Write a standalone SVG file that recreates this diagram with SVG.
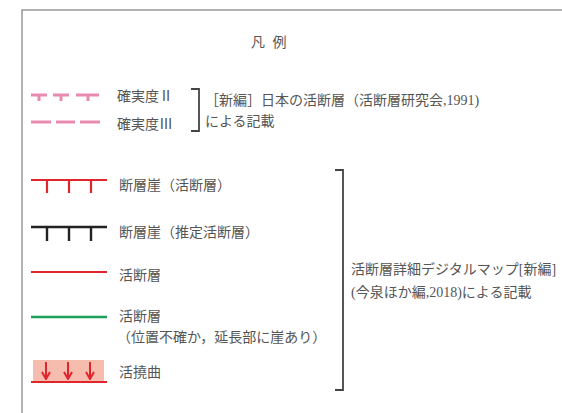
<svg xmlns="http://www.w3.org/2000/svg" width="562" height="413" viewBox="0 0 562 413">
<style>
text{font-family:"Liberation Serif","Noto Sans CJK JP",serif;font-size:14px;fill:#555}
.br{fill:none;stroke:#444;stroke-width:1.8}
.arr{stroke:#e0252d;stroke-width:2;fill:none;marker-end:url(#ah)}
</style>
<defs>
<marker id="ah" viewBox="0 0 10 10" refX="9" refY="5" markerWidth="10" markerHeight="10" markerUnits="userSpaceOnUse" orient="auto">
<path d="M2,1 L9,5 L2,9" fill="none" stroke="#e0252d" stroke-width="2"/>
</marker>
</defs>
<rect width="562" height="413" fill="#fff"/>
<path d="M22,413 V10 H562" fill="none" stroke="#999" stroke-width="1.5"/>
<g id="title"><text x="251" y="47" font-size="16" letter-spacing="2">凡 例</text></g>
<g id="kakujitsu2">
<path d="M31,95 H47 M39,95 V101 M53,95 H69 M61,95 V101 M76,95 H99 M88,95 V101" stroke="#e98bb0" stroke-width="3" fill="none"/>
<text x="117" y="101">確実度Ⅱ</text>
</g>
<g id="kakujitsu3">
<path d="M31,122 H51 M56,122 H75 M80,122 H100" stroke="#e98bb0" stroke-width="3" fill="none"/>
<text x="117" y="129">確実度Ⅲ</text>
</g>
<g id="source1">
<text x="205" y="105">［新編］日本の活断層（活断層研究会,1991)</text>
<text x="205" y="126">による記載</text>
</g>
<g id="dansougai">
<path d="M31,180 H107 M47,180 V193 M69,180 V193 M91,180 V193" stroke="#e0252d" stroke-width="2.2" fill="none"/>
<text x="119" y="190">断層崖（活断層）</text>
</g>
<g id="suitei">
<path d="M31,227 H107 M47,227 V241 M69,227 V241 M91,227 V241" stroke="#222" stroke-width="2.4" fill="none"/>
<text x="119" y="237">断層崖（推定活断層）</text>
</g>
<g id="katsudansou">
<path d="M31,272 H107" stroke="#e0252d" stroke-width="2.2" fill="none"/>
<text x="119" y="280">活断層</text>
</g>
<g id="katsudansou2">
<path d="M31,317 H107" stroke="#1ea05a" stroke-width="2.6" fill="none"/>
<text x="119" y="321">活断層</text>
<text x="117" y="342">（位置不確か，延長部に崖あり）</text>
</g>
<g id="kyokyoku">
<rect x="33" y="360" width="71" height="22" fill="#f6bcae"/>
<path d="M31,382 H107" stroke="#e0252d" stroke-width="2.2" fill="none"/>
<path class="arr" d="M46,362 V379"/>
<path class="arr" d="M68,362 V379"/>
<path class="arr" d="M90,362 V379"/>
<text x="119" y="377">活撓曲</text>
</g>
<g id="connectors">
<path class="br" d="M191,89 H199 V131 H191"/>
<path class="br" d="M335,170 H343 V390 H335"/>
</g>
<g id="source2">
<text x="351" y="274">活断層詳細デジタルマップ[新編]</text>
<text x="351" y="297">(今泉ほか編,2018)による記載</text>
</g>
</svg>
